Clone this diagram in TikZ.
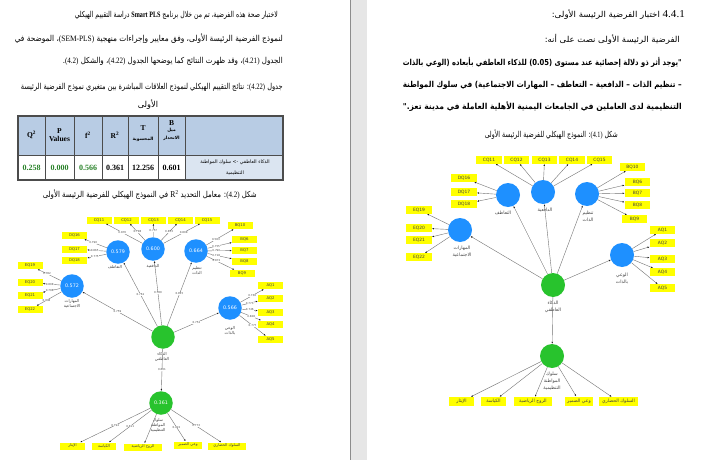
\documentclass[tikz,border=0pt]{standalone}
\usepackage{fontspec}
\usepackage{graphicx}
\usetikzlibrary{arrows.meta}
\TeXXeTstate=1
\setmainfont{Liberation Serif}
\newfontfamily\ar[Script=Arabic]{DejaVu Sans}
\newfontfamily\lat{Liberation Serif}
\newfontfamily\sps{DejaVu Sans}
\newcommand\RL[1]{\beginR#1\endR}
\newcommand\LR[1]{\beginL#1\endL}
\newcommand\fitw[2]{\resizebox{#1}{\height}{#2}}
\newcommand\txt{\ar\fontsize{8.2}{10}\selectfont}
\newcommand\btxt{\ar\bfseries\fontsize{8.2}{10}\selectfont}
\definecolor{ybox}{RGB}{255,255,0}
\definecolor{pblue}{RGB}{30,144,255}
\definecolor{pgreen}{RGB}{40,195,45}
\definecolor{hdr}{RGB}{184,204,228}
\definecolor{hdrl}{RGB}{219,229,241}
\definecolor{tgreen}{RGB}{40,130,40}
\definecolor{sepgray}{RGB}{230,230,230}
\tikzset{
 indL/.style={fill=ybox, minimum width=25pt, minimum height=7pt, inner sep=0pt, font=\sps\fontsize{3.8}{4}\selectfont, text=black!75},
 indR/.style={indL, minimum width=25.5pt, minimum height=7.5pt, font=\sps\fontsize{4.4}{4.5}\selectfont},
 barL/.style={indL, font=\ar\fontsize{3.8}{4}\selectfont},
 barR/.style={indR, minimum height=9pt, font=\ar\fontsize{4.6}{5}\selectfont},
 lvL/.style={circle, fill=pblue, minimum size=23.5pt, inner sep=0pt, font=\sps\fontsize{4.8}{5}\selectfont, text=white},
 gvL/.style={lvL, fill=pgreen},
 lvR/.style={lvL, minimum size=24pt},
 gvR/.style={lvR, fill=pgreen},
 con/.style={draw=black!55, line width=0.4pt, -{Latex[length=2pt,width=1.6pt,color=black!90]}},
 val/.style={font=\sps\fontsize{2.7}{3}\selectfont, text=black!70, fill=white, inner sep=0.2pt},
 lblL/.style={font=\ar\fontsize{4}{5}\selectfont, text=black!75, align=center, inner sep=0pt},
 lblR/.style={font=\ar\fontsize{4.6}{7}\selectfont, text=black!75, align=center, inner sep=0pt},
 tline/.style={draw=black!70, line width=0.6pt},
 hd/.style={font=\lat\bfseries\fontsize{7.5}{8}\selectfont, align=center, inner sep=0pt},
 hda/.style={font=\ar\bfseries\fontsize{4.4}{8}\selectfont, align=center, inner sep=0pt},
 dv/.style={font=\lat\bfseries\fontsize{8}{8}\selectfont, inner sep=0pt},
}
\begin{document}
\begin{tikzpicture}[x=1pt,y=-1pt]
\useasboundingbox (0,0) rectangle (720,460);
\fill[white] (0,0) rectangle (720,460);
\fill[sepgray] (350,0) rectangle (367,460);
\draw[black!45,line width=.6pt] (350.3,0) -- (350.3,460);
% ---------------- left page text
\node[anchor=east,inner sep=0] (l1) at (278,15) {\fitw{203pt}{\txt\RL{لاختبار صحة هذه الفرضية، تم من خلال برنامج \LR{{\lat\bfseries Smart PLS}} دراسة التقييم الهيكلي}}};
\node[anchor=east,inner sep=0] (l2) at (283,39) {\fitw{268pt}{\txt\RL{لنموذج الفرضية الرئيسة الأولى، وفق معايير وإجراءات منهجية \LR{{\lat (SEM-PLS)}}، الموضحة في}}};
\node[anchor=east,inner sep=0] (l3) at (283,61) {\fitw{220pt}{\txt\RL{الجدول \LR{{\lat (4.21)}}، وقد ظهرت النتائج كما يوضحها الجدول \LR{{\lat (4.22)}}، والشكل \LR{{\lat (4.2)}}.}}};
\node[anchor=east,inner sep=0] (l4) at (283,87) {\fitw{262pt}{\txt\RL{جدول \LR{{\lat (4.22)}}: نتائج التقييم الهيكلي لنموذج العلاقات المباشرة بين متغيري نموذج الفرضية الرئيسة}}};
\node[inner sep=0] (l5) at (148,105) {\txt\RL{الأولى}};
% ---------------- table
\fill[hdr] (18,116) rectangle (283,155);
\fill[hdrl] (185,155) rectangle (283,180);
\draw[tline] (18,155) -- (283,155);
\foreach \x in {45,74,102,128,158,185} \draw[tline] (\x,116) -- (\x,180);
\draw[tline,line width=1.1pt] (18,116) rectangle (283,180);
\node[hd] (h1) at (31.5,135) {Q\textsuperscript{2}};
\node[hd] (h2) at (59.5,135) {P\\Values};
\node[hd] (h3) at (88,135) {f\textsuperscript{2}};
\node[hd] (h4) at (115,135) {R\textsuperscript{2}};
\node[hd] (h5) at (143,128) {T};
\node[hda] (h5b) at (143,139) {\RL{المحسوبة}};
\node[hd] (h6) at (171.5,123) {B};
\node[hda] (h6b) at (171.5,134) {\RL{ميل}\\\RL{الانحدار}};
\node[dv,text=tgreen] (d1) at (31.5,167.5) {0.258};
\node[dv,text=tgreen] (d2) at (59.5,167.5) {0.000};
\node[dv,text=tgreen] (d3) at (88,167.5) {0.566};
\node[dv] (d4) at (115,167.5) {0.361};
\node[dv] (d5) at (143,167.5) {12.256};
\node[dv] (d6) at (171.5,167.5) {0.601};
\node[font=\ar\fontsize{4.8}{6}\selectfont,inner sep=0] (d7) at (235,162) {\RL{الذكاء العاطفي \LR{->} سلوك المواطنة}};
\node[font=\ar\fontsize{4.8}{6}\selectfont,inner sep=0] (d7b) at (235,173.5) {\RL{التنظيمية}};
\node[anchor=east,inner sep=0] (cap2) at (257,195) {\fitw{214pt}{\txt\RL{شكل \LR{{\lat (4.2)}}: معامل التحديد \LR{{\lat\fontsize{9}{9}\selectfont R\textsuperscript{2}}} في النموذج الهيكلي للفرضية الرئيسة الأولى}}};
% ---------------- left diagram
\node[lvL] (Lemp) at (118,252) {0.579};
\node[lvL] (Lmot) at (153,249) {0.600};
\node[lvL] (Lreg) at (196,251) {0.664};
\node[lvL] (Lsoc) at (72,286) {0.572};
\node[lvL] (Lawa) at (230,308) {0.566};
\node[gvL] (Lei) at (163,337) {};
\node[gvL] (Locb) at (161,403) {0.361};
\node[lblL] (Llemp) at (115,267) {\RL{التعاطف}};
\node[lblL] (Llmot) at (153,266) {\RL{الدافعية}};
\node[lblL] (Llreg) at (197,271) {\RL{تنظيم}\\\RL{الذات}};
\node[lblL] (Llsoc) at (72,303.5) {\RL{المهارات}\\\RL{الاجتماعية}};
\node[lblL] (Llawa) at (230,330.5) {\RL{الوعي}\\\RL{بالذات}};
\node[lblL] (Llei) at (162,356.5) {\RL{الذكاء}\\\RL{العاطفي}};
\node[lblL] (Llocb) at (158,425) {\RL{سلوك}\\\RL{المواطنة}\\\RL{التنظيمية}};
\node[indL] (LC11) at (99,220) {CQ11};
\node[indL] (LC12) at (126.5,220) {CQ12};
\node[indL] (LC13) at (153.5,220) {CQ13};
\node[indL] (LC14) at (180.5,220) {CQ14};
\node[indL] (LC15) at (207,220) {CQ15};
\node[indL] (LB10) at (240,225.5) {BQ10};
\node[indL] (LB6) at (244.5,239.5) {BQ6};
\node[indL] (LB7) at (244.5,250.5) {BQ7};
\node[indL] (LB8) at (244.5,261.5) {BQ8};
\node[indL] (LB9) at (242,273.5) {BQ9};
\node[indL] (LD16) at (74.5,235.5) {DQ16};
\node[indL] (LD17) at (74.5,249) {DQ17};
\node[indL] (LD18) at (74.5,260.5) {DQ18};
\node[indL] (LE19) at (30,265.5) {EQ19};
\node[indL] (LE20) at (30,282.5) {EQ20};
\node[indL] (LE21) at (30,295) {EQ21};
\node[indL] (LE22) at (30,309.5) {EQ22};
\node[indL] (LA1) at (270.5,285.5) {AQ1};
\node[indL] (LA2) at (270.5,298) {AQ2};
\node[indL] (LA3) at (270.5,312) {AQ3};
\node[indL] (LA4) at (270.5,324) {AQ4};
\node[indL] (LA5) at (270.5,339.5) {AQ5};
\node[barL] (Lb1) at (72.5,446) {\RL{الإيثار}};
\node[barL,minimum width=24pt] (Lb2) at (104,446) {\RL{الكياسة}};
\node[barL,minimum width=38pt] (Lb3) at (143,447) {\RL{الروح الرياضية}};
\node[barL,minimum width=28pt] (Lb4) at (188,445) {\RL{وعي الضمير}};
\node[barL,minimum width=38pt] (Lb5) at (227,446) {\RL{السلوك الحضاري}};
\draw[con] (Lmot) -- node[val,pos=.55]{0.870} (LC11);
\draw[con] (Lmot) -- node[val,pos=.5]{0.798} (LC12);
\draw[con] (Lmot) -- node[val,pos=.5]{0.757} (LC13);
\draw[con] (Lmot) -- node[val,pos=.5]{0.853} (LC14);
\draw[con] (Lmot) -- node[val,pos=.55]{0.808} (LC15);
\draw[con] (Lreg) -- node[val,pos=.35]{0.583} (LB10);
\draw[con] (Lreg) -- node[val,pos=.35]{0.755} (LB6);
\draw[con] (Lreg) -- node[val,pos=.35]{0.790} (LB7);
\draw[con] (Lreg) -- node[val,pos=.35]{0.718} (LB8);
\draw[con] (Lreg) -- node[val,pos=.35]{0.872} (LB9);
\draw[con] (Lemp) -- node[val,pos=.6]{0.790} (LD16);
\draw[con] (Lemp) -- node[val,pos=.6]{0.865} (LD17);
\draw[con] (Lemp) -- node[val,pos=.6]{0.775} (LD18);
\draw[con] (Lsoc) -- node[val,pos=.6]{0.782} (LE19);
\draw[con] (Lsoc) -- node[val,pos=.6]{0.808} (LE20);
\draw[con] (Lsoc) -- node[val,pos=.6]{0.798} (LE21);
\draw[con] (Lsoc) -- node[val,pos=.6]{0.898} (LE22);
\draw[con] (Lawa) -- node[val,pos=.5]{0.738} (LA1);
\draw[con] (Lawa) -- node[val,pos=.5]{0.773} (LA2);
\draw[con] (Lawa) -- node[val,pos=.5]{0.746} (LA3);
\draw[con] (Lawa) -- node[val,pos=.5]{0.828} (LA4);
\draw[con] (Lawa) -- node[val,pos=.5]{0.777} (LA5);
\draw[con] (Lei) -- node[val]{0.759} (Lsoc);
\draw[con] (Lei) -- node[val]{0.761} (Lemp);
\draw[con] (Lei) -- node[val]{0.780} (Lmot);
\draw[con] (Lei) -- node[val]{0.815} (Lreg);
\draw[con] (Lei) -- node[val]{0.752} (Lawa);
\draw[con] (Lei) -- node[val]{0.601} (Locb);
\draw[con] (Locb) -- node[val]{0.794} (Lb1);
\draw[con] (Locb) -- node[val]{0.811} (Lb2);
\draw[con] (Locb) -- (Lb3);
\draw[con] (Locb) -- node[val]{0.822} (Lb4);
\draw[con] (Locb) -- node[val]{0.773} (Lb5);
% ---------------- right page text
\node[anchor=east,inner sep=0] (r1) at (685,15) {\fitw{133pt}{\txt\RL{\LR{{\lat\fontsize{10.5}{11}\selectfont 4.4.1}} اختبار الفرضية الرئيسة الأولى:}}};
\node[anchor=east,inner sep=0] (r2) at (680,39) {\fitw{135pt}{\txt\RL{الفرضية الرئيسة الأولى نصت على أنه:}}};
\node[anchor=east,inner sep=0] (r3) at (682,62) {\fitw{279pt}{\btxt\RL{"يوجد أثر ذو دلالة إحصائية عند مستوى \LR{(0.05)} للذكاء العاطفي بأبعاده (الوعي بالذات}}};
\node[anchor=east,inner sep=0] (r4) at (682,85) {\fitw{279pt}{\btxt\RL{– تنظيم الذات – الدافعية – التعاطف – المهارات الاجتماعية) في سلوك المواطنة}}};
\node[anchor=east,inner sep=0] (r5) at (682,107) {\fitw{279pt}{\btxt\RL{التنظيمية لدى العاملين في الجامعات اليمنية الأهلية العاملة في مدينة تعز."}}};
\node[anchor=east,inner sep=0] (r6) at (618,135) {\fitw{133pt}{\txt\RL{شكل \LR{{\lat (4.1)}}: النموذج الهيكلي للفرضية الرئيسة الأولى}}};
% ---------------- right diagram
\node[lvR] (Remp) at (508,195) {};
\node[lvR] (Rmot) at (543,192) {};
\node[lvR] (Rreg) at (587,194) {};
\node[lvR] (Rsoc) at (460,230) {};
\node[lvR] (Rawa) at (622,255) {};
\node[gvR] (Rei) at (553,285) {};
\node[gvR] (Rocb) at (552,356) {};
\node[lblR] (Rlemp) at (503,213) {\RL{التعاطف}};
\node[lblR] (Rlmot) at (545,210) {\RL{الدافعية}};
\node[lblR] (Rlreg) at (588,216.5) {\RL{تنظيم}\\\RL{الذات}};
\node[lblR] (Rlsoc) at (462,251.5) {\RL{المهارات}\\\RL{الاجتماعية}};
\node[lblR] (Rlawa) at (622,278.5) {\RL{الوعي}\\\RL{بالذات}};
\node[lblR] (Rlei) at (553,306.5) {\RL{الذكاء}\\\RL{العاطفي}};
\node[lblR] (Rlocb) at (552,381) {\RL{سلوك}\\\RL{المواطنة}\\\RL{التنظيمية}};
\node[indR] (RC11) at (489,160) {CQ11};
\node[indR] (RC12) at (516.5,160) {CQ12};
\node[indR] (RC13) at (544.5,160) {CQ13};
\node[indR] (RC14) at (572,160) {CQ14};
\node[indR] (RC15) at (599.5,160) {CQ15};
\node[indR] (RB10) at (632.5,167) {BQ10};
\node[indR] (RB6) at (637.5,182) {BQ6};
\node[indR] (RB7) at (637.5,193) {BQ7};
\node[indR] (RB8) at (637.5,205) {BQ8};
\node[indR] (RB9) at (634.5,219) {BQ9};
\node[indR] (RD16) at (464,178) {DQ16};
\node[indR] (RD17) at (464,192) {DQ17};
\node[indR] (RD18) at (464,204) {DQ18};
\node[indR] (RE19) at (419,210) {EQ19};
\node[indR] (RE20) at (419,228) {EQ20};
\node[indR] (RE21) at (419,240) {EQ21};
\node[indR] (RE22) at (419,257) {EQ22};
\node[indR] (RA1) at (662.5,230) {AQ1};
\node[indR] (RA2) at (662.5,243) {AQ2};
\node[indR] (RA3) at (662.5,259) {AQ3};
\node[indR] (RA4) at (662.5,272) {AQ4};
\node[indR] (RA5) at (662.5,288) {AQ5};
\node[barR,minimum width=25pt] (Rb1) at (461.5,401.5) {\RL{الإيثار}};
\node[barR,minimum width=25pt] (Rb2) at (493.5,401.5) {\RL{الكياسة}};
\node[barR,minimum width=38pt] (Rb3) at (533,401.5) {\RL{الروح الرياضية}};
\node[barR,minimum width=28pt] (Rb4) at (579,401) {\RL{وعي الضمير}};
\node[barR,minimum width=39pt] (Rb5) at (618.5,401.5) {\RL{السلوك الحضاري}};
\foreach \n in {RC11,RC12,RC13,RC14,RC15} \draw[con] (Rmot) -- (\n);
\foreach \n in {RB10,RB6,RB7,RB8,RB9} \draw[con] (Rreg) -- (\n);
\foreach \n in {RD16,RD17,RD18} \draw[con] (Remp) -- (\n);
\foreach \n in {RE19,RE20,RE21,RE22} \draw[con] (Rsoc) -- (\n);
\foreach \n in {RA1,RA2,RA3,RA4,RA5} \draw[con] (Rawa) -- (\n);
\foreach \n in {Rsoc,Remp,Rmot,Rreg,Rawa,Rocb} \draw[con] (Rei) -- (\n);
\foreach \n in {Rb1,Rb2,Rb3,Rb4,Rb5} \draw[con] (Rocb) -- (\n);
\end{tikzpicture}
\end{document}
